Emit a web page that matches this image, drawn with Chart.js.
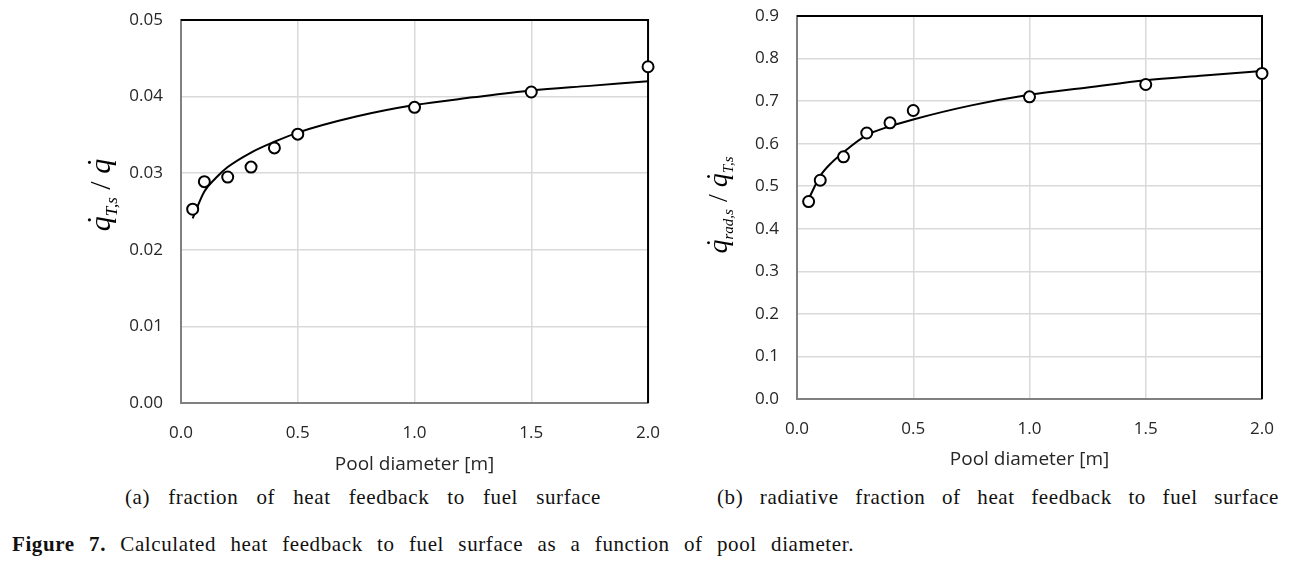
<!DOCTYPE html>
<html>
<head>
<meta charset="utf-8">
<script src="https://cdn.jsdelivr.net/npm/chart.js@4.4.1/dist/chart.umd.min.js"></script>
<style>
  body { margin: 0; background: #fff; width: 1303px; height: 564px; position: relative; overflow: hidden; }
  .box { position: absolute; top: 0; height: 480px; }
  .cap { position: absolute; font-family: "Liberation Serif", serif; font-size: 21px; letter-spacing: 0.6px; color: #111; white-space: nowrap; }
</style>
</head>
<body>
<div class="box" style="left:0;width:680px"><canvas id="chartA"></canvas></div>
<div class="box" style="left:680px;width:623px"><canvas id="chartB"></canvas></div>
<div class="cap" data-width="476" style="left:125px;top:485px">(a) fraction of heat feedback to fuel surface</div>
<div class="cap" data-width="562" style="left:717px;top:485px">(b) radiative fraction of heat feedback to fuel surface</div>
<div class="cap" data-width="842" style="left:12px;top:532px"><b>Figure 7.</b> Calculated heat feedback to fuel surface as a function of pool diameter.</div>
<script>
// pool diameter [m] of the simulated cases
const poolDiameters = [0.05, 0.1, 0.2, 0.3, 0.4, 0.5, 1.0, 1.5, 2.0];
const fractionPoints = [0.0253, 0.0289, 0.0295, 0.0308, 0.0333, 0.0351, 0.0386, 0.0406, 0.0439];
const radiativePoints = [0.464, 0.514, 0.569, 0.625, 0.649, 0.678, 0.710, 0.739, 0.765];

// fitted curves
const fitDiameters = [0.05, 0.1, 0.15, 0.2, 0.3, 0.4, 0.5, 0.75, 1.0, 1.25, 1.5, 1.75, 2.0];
const fractionFit = [0.0241, 0.0276, 0.0294, 0.0308, 0.0327, 0.0341, 0.0353, 0.0374, 0.0389, 0.0399, 0.0408, 0.0414, 0.0420];
const radiativeFit = [0.470, 0.524, 0.556, 0.580, 0.620, 0.641, 0.657, 0.690, 0.715, 0.732, 0.749, 0.760, 0.771];

const xTicks = [0, 0.5, 1.0, 1.5, 2.0];

const tickFont = { family: "'Open Sans', sans-serif", size: 17 };
const tickColor = "#262626";

function pairs(xs, ys) {
  return xs.map((x, i) => ({ x: x, y: ys[i] }));
}

// spread the word gaps of the captions to their width in the figure
document.querySelectorAll(".cap").forEach((el) => {
  const spaces = el.textContent.split(" ").length - 1;
  const natural = el.getBoundingClientRect().width;
  el.style.wordSpacing = (Number(el.dataset.width) - natural) / spaces + "px";
});

// black frame on top and right side of the plot
const framePlugin = {
  id: "frame",
  beforeDatasetsDraw(chart) {
    const { ctx, chartArea: a } = chart;
    ctx.save();
    ctx.strokeStyle = "#000";
    ctx.lineWidth = 2;
    ctx.beginPath();
    ctx.moveTo(a.left, a.top);
    ctx.lineTo(a.right, a.top);
    ctx.lineTo(a.right, a.bottom);
    ctx.stroke();
    ctx.restore();
  },
};

// rotated y title with dotted q and subscripts
const yTitlePlugin = {
  id: "yTitle",
  afterDraw(chart, args, opts) {
    const ctx = chart.ctx;
    const big = opts.size;
    const small = Math.round(big * 0.55);
    const parts = opts.parts;
    ctx.save();
    ctx.translate(opts.x, opts.y);
    ctx.rotate(-Math.PI / 2);
    ctx.fillStyle = "#000";
    ctx.textBaseline = "alphabetic";
    let widths = parts.map((p) => {
      ctx.font = "italic " + (p.sub ? small : big) + "px 'Liberation Serif', serif";
      return ctx.measureText(p.t).width;
    });
    let total = widths.reduce((s, w) => s + w, 0);
    let x = -total / 2;
    parts.forEach((p, i) => {
      ctx.font = (p.plain ? "" : "italic ") + (p.sub ? small : big) + "px 'Liberation Serif', serif";
      ctx.textAlign = "left";
      ctx.fillText(p.t, x, p.sub ? big * 0.22 : 0);
      if (p.dot) {
        ctx.textAlign = "center";
        ctx.fillText("\u02D9", x + widths[i] / 2 + 2, -big * 0.08);
      }
      x += widths[i];
    });
    ctx.restore();
  },
};

function makeChart(id, points, fit, yMax, yStep, yDigits, pad, yWidth, xHeight, titlePad, titleOpts) {
  return new Chart(document.getElementById(id), {
    type: "scatter",
    data: {
      datasets: [
        {
          data: pairs(poolDiameters, points),
          pointStyle: "circle",
          pointRadius: 5.5,
          pointBorderWidth: 2,
          pointBorderColor: "#000",
          pointBackgroundColor: "#fff",
          showLine: false,
          clip: false,
          order: 0,
        },
        {
          data: pairs(fitDiameters, fit),
          showLine: true,
          borderColor: "#000",
          borderWidth: 2,
          pointRadius: 0,
          cubicInterpolationMode: "monotone",
          clip: false,
          order: 1,
        },
      ],
    },
    options: {
      responsive: true,
      maintainAspectRatio: false,
      animation: false,
      events: [],
      layout: { padding: pad },
      plugins: {
        legend: { display: false },
        tooltip: { enabled: false },
        yTitle: titleOpts,
      },
      scales: {
        x: {
          type: "linear",
          min: 0,
          max: 2,
          afterBuildTicks: (s) => { s.ticks = xTicks.map((v) => ({ value: v })); },
          afterFit: (s) => { s.height = xHeight; },
          grid: { color: "#d9d9d9", lineWidth: 1.5, drawTicks: false },
          border: { color: "#808080", width: 2 },
          ticks: { font: tickFont, color: tickColor, padding: 20, callback: (v) => v.toFixed(1) },
          title: {
            display: true,
            text: "Pool diameter [m]",
            font: { family: "'Open Sans', sans-serif", size: 19 },
            color: tickColor,
            padding: { top: 0, bottom: titlePad },
          },
        },
        y: {
          min: 0,
          max: yMax,
          ticks: { stepSize: yStep, font: tickFont, color: tickColor, padding: 18, callback: (v) => v.toFixed(yDigits) },
          afterFit: (s) => {
            s.width = yWidth;
            s.paddingTop = 0;
            s.paddingBottom = 0;
          },
          grid: { color: "#d9d9d9", lineWidth: 1.5, drawTicks: false },
          border: { color: "#808080", width: 2 },
        },
      },
    },
    plugins: [framePlugin, yTitlePlugin],
  });
}

makeChart("chartA", fractionPoints, fractionFit, 0.05, 0.01, 2,
  { left: 0, top: 20, right: 28, bottom: 0 }, 181, 77, 4,
  { x: 110, y: 195, size: 30, parts: [
    { t: "q", dot: true }, { t: "T,s", sub: true }, { t: " / ", plain: true }, { t: "q", dot: true },
  ] });

makeChart("chartB", radiativePoints, radiativeFit, 0.9, 0.1, 1,
  { left: 0, top: 16, right: 41, bottom: 0 }, 117, 81, 9,
  { x: 47, y: 205, size: 28, parts: [
    { t: "q", dot: true }, { t: "rad,s", sub: true }, { t: " / ", plain: true }, { t: "q", dot: true }, { t: "T,s", sub: true },
  ] });
</script>
</body>
</html>
